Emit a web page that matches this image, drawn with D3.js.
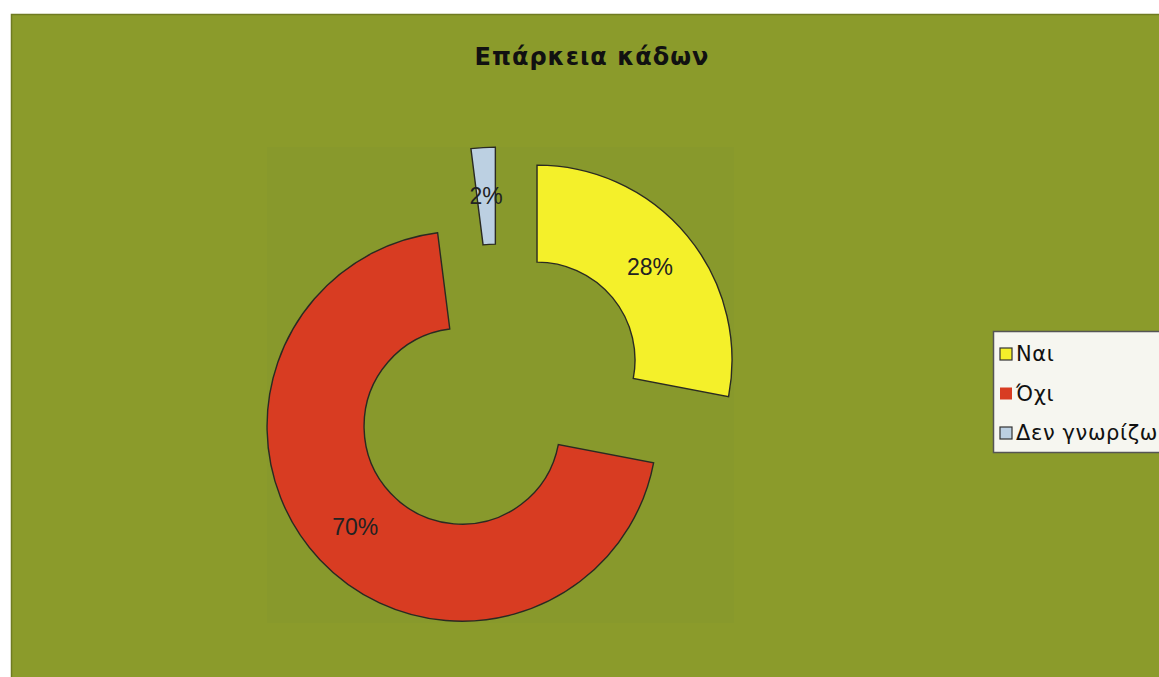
<!DOCTYPE html>
<html>
<head>
<meta charset="utf-8">
<script src="https://cdn.jsdelivr.net/npm/d3@7"></script>
<style>
  body { margin: 0; background: #fff; }
  svg { display: block; }
</style>
</head>
<body>
<div id="chart"></div>
<script>
// Chart data
const categories = ['Ναι', 'Όχι', 'Δεν γνωρίζω'];
const values = [28, 70, 2];
const colors = ['#f4f02a', '#d83c22', '#bcd0e2'];
const title = 'Επάρκεια κάδων';

const width = 1159;
const height = 677;

const svg = d3.select('#chart')
    .append('svg')
    .attr('width', width)
    .attr('height', height);

// Chart area
svg.append('rect')
    .attr('x', 11.5)
    .attr('y', 14.5)
    .attr('width', width)
    .attr('height', height)
    .attr('fill', '#8b9b2b')
    .attr('stroke', '#6f7b22')
    .attr('stroke-width', 1.5);

// Plot area (slightly different shade)
svg.append('rect')
    .attr('x', 267)
    .attr('y', 147)
    .attr('width', 467)
    .attr('height', 476)
    .attr('fill', '#88992c');

// Title
svg.append('text')
    .attr('x', 592)
    .attr('y', 65)
    .attr('text-anchor', 'middle')
    .attr('font-family', 'DejaVu Sans, sans-serif')
    .attr('font-weight', 'bold')
    .attr('font-size', '24px')
    .attr('letter-spacing', '1px')
    .attr('fill', '#111')
    .text(title);

// Donut
const cx = 498.5, cy = 392;
const outerR = 195, innerR = 98;
const explode = 50;

const pie = d3.pie().sort(null).value(d => d);
const arc = d3.arc().innerRadius(innerR).outerRadius(outerR);
const arcs = pie(values);

const g = svg.append('g')
    .attr('transform', `translate(${cx},${cy})`);

const slice = g.selectAll('g.slice')
    .data(arcs)
    .enter()
    .append('g')
    .attr('class', 'slice')
    .attr('transform', d => {
        const a = (d.startAngle + d.endAngle) / 2;
        return `translate(${Math.sin(a) * explode},${-Math.cos(a) * explode})`;
    });

slice.append('path')
    .attr('d', arc)
    .attr('fill', (d, i) => colors[i])
    .attr('stroke', '#2a2a22')
    .attr('stroke-width', 1.4);

slice.append('text')
    .attr('transform', d => `translate(${arc.centroid(d)})`)
    .attr('text-anchor', 'middle')
    .attr('dy', '0.35em')
    .attr('font-family', 'Liberation Sans, Arial, sans-serif')
    .attr('font-size', '23px')
    .attr('fill', '#222')
    .text(d => d.data + '%');

// Legend
const legend = svg.append('g')
    .attr('transform', 'translate(993,331)');

legend.append('rect')
    .attr('x', 0.5)
    .attr('y', 0.5)
    .attr('width', 180)
    .attr('height', 121)
    .attr('fill', '#f6f6f0')
    .attr('stroke', '#555')
    .attr('stroke-width', 1.5);

const item = legend.selectAll('g.item')
    .data(categories)
    .enter()
    .append('g')
    .attr('class', 'item')
    .attr('transform', (d, i) => `translate(7,${23 + i * 39.5})`);

item.append('rect')
    .attr('x', 0)
    .attr('y', -6)
    .attr('width', 12)
    .attr('height', 12)
    .attr('fill', (d, i) => colors[i])
    .attr('stroke', (d, i) => i === 1 ? 'none' : '#333')
    .attr('stroke-width', 1.2);

item.append('text')
    .attr('x', 16)
    .attr('dy', '0.35em')
    .attr('font-family', 'DejaVu Sans, sans-serif')
    .attr('font-size', '21px')
    .attr('letter-spacing', '0.6px')
    .attr('fill', '#111')
    .text(d => d);
</script>
</body>
</html>
